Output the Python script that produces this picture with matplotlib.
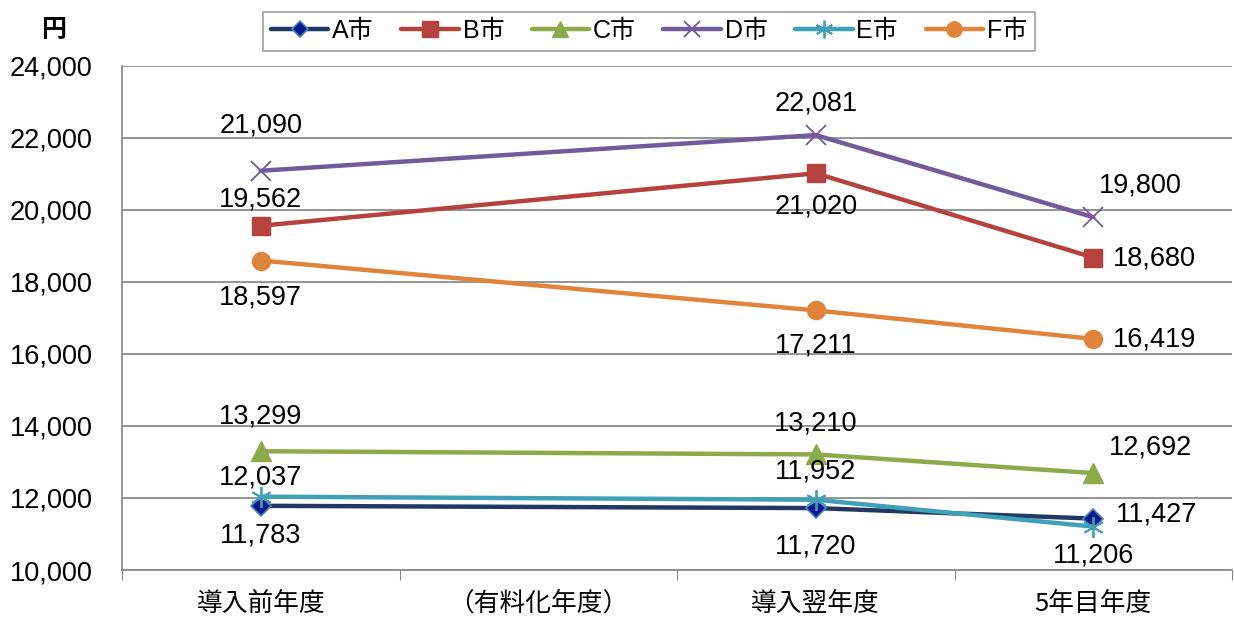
import matplotlib
matplotlib.use("Agg")
import matplotlib.pyplot as plt
import numpy as np

categories = ["導入前年度", "（有料化年度）", "導入翌年度", "5年目年度"]
series_names = ["A市", "B市", "C市", "D市", "E市", "F市"]
# values per category (None = no data for 有料化年度)
A = [11783, None, 11720, 11427]
B = [19562, None, 21020, 18680]
C = [13299, None, 13210, 12692]
D = [21090, None, 22081, 19800]
E = [12037, None, 11952, 11206]
F = [18597, None, 17211, 16419]
yticks = [10000, 12000, 14000, 16000, 18000, 20000, 22000, 24000]

styles = {
    "A市": dict(color="#1F3864", marker="D", ms=10, mfc="#0A1A8C", mec="#4F81BD", mew=1.2),
    "B市": dict(color="#B5423C", marker="s", ms=13, mfc="#B5423C", mec="#B5423C", mew=1),
    "C市": dict(color="#8DAA4B", marker="^", ms=14, mfc="#8DAA4B", mec="#8DAA4B", mew=1),
    "D市": dict(color="#735A9B", marker="x", ms=14, mfc="none", mec="#735A9B", mew=1.3),
    "E市": dict(color="#3FA0B7", marker=(6, 2, 0), ms=15, mfc="none", mec="#3FA0B7", mew=1.3),
    "F市": dict(color="#E0843C", marker="o", ms=13, mfc="#E0843C", mec="#E0843C", mew=1),
}

# label offsets in pixels (dx, dy, ha)
offsets = {
    "A市": [(0, -30, "center"), None, (0, -38, "center"), (23, 4, "left")],
    "B市": [(0, 26, "center"), None, (0, -33, "center"), (20, -1, "left")],
    "C市": [(0, 35, "center"), None, (0, 31, "center"), (16, 26, "left")],
    "D市": [(0, 45, "center"), None, (0, 32, "center"), (6, 32, "left")],
    "E市": [(0, 19, "center"), None, (0, 28, "center"), (0, -29, "center")],
    "F市": [(0, -37, "center"), None, (0, -35, "center"), (20, -1, "left")],
}

data = dict(zip(series_names, [A, B, C, D, E, F]))

fig = plt.figure(figsize=(12.34, 6.19), dpi=100)
W, H = 1234, 619
ax = fig.add_axes([122 / W, 1 - 570 / H, (1232 - 122) / W, (570 - 66) / H])

xpos = np.arange(len(categories)) + 0.5
num_font = ["Liberation Sans", "Noto Sans CJK JP", "DejaVu Sans"]

for name in series_names:
    vals = data[name]
    xs = [x for x, v in zip(xpos, vals) if v is not None]
    ys = [v for v in vals if v is not None]
    st = styles[name]
    ax.plot(xs, ys, color=st["color"], lw=3.2, marker=st["marker"], ms=st["ms"],
            mfc=st["mfc"], mec=st["mec"], mew=st["mew"], label=name, zorder=3,
            solid_capstyle="round", solid_joinstyle="round")
    for x, v, off in zip(xpos, vals, offsets[name]):
        if v is None or off is None:
            continue
        dx, dy, ha = off
        ax.annotate(f"{v:,}", (x, v), xytext=(dx, dy), textcoords="offset pixels",
                    ha=ha, va="center", fontsize=19.5, family=num_font, color="black",
                    zorder=5)

ax.set_xlim(0, len(categories))
ax.set_ylim(10000, 24000)
ax.set_yticks(yticks)
ax.set_yticklabels([f"{v:,}" for v in yticks], fontsize=19.5, family=num_font)
ax.tick_params(axis="y", length=0, pad=21)
ax.set_xticks(np.arange(len(categories) + 1))
ax.set_xticklabels([])
ax.tick_params(axis="x", which="major", length=7, color="#888888", direction="out")
ax.set_xticks(xpos, minor=True)
ax.set_xticklabels(categories, minor=True, fontsize=18.5, family=["Noto Sans CJK JP", "DejaVu Sans"])
ax.tick_params(axis="x", which="minor", length=0, pad=15)

ax.grid(axis="y", color="#8C8C8C", lw=1.3)
ax.set_axisbelow(True)
for s in ["top", "right"]:
    ax.spines[s].set_visible(False)
ax.spines["left"].set_color("#8C8C8C")
ax.spines["left"].set_linewidth(1.3)
ax.spines["bottom"].set_color("#8C8C8C")
ax.spines["bottom"].set_linewidth(1.3)

fig.text(55 / W, 1 - 30 / H, "円", fontsize=18, family=["Noto Sans CJK JP", "DejaVu Sans"],
         fontweight="bold", ha="center", va="center")

leg = fig.legend(loc="center", bbox_to_anchor=(649 / W, 1 - 31 / H), ncol=6,
                 prop={"family": num_font, "size": 18}, frameon=True, fancybox=False,
                 edgecolor="#888888", handlelength=2.3, columnspacing=1.1,
                 handletextpad=0.15, borderpad=0.3, markerscale=0.85)
leg.get_frame().set_linewidth(1.2)

fig.savefig("out.png", dpi=100)
